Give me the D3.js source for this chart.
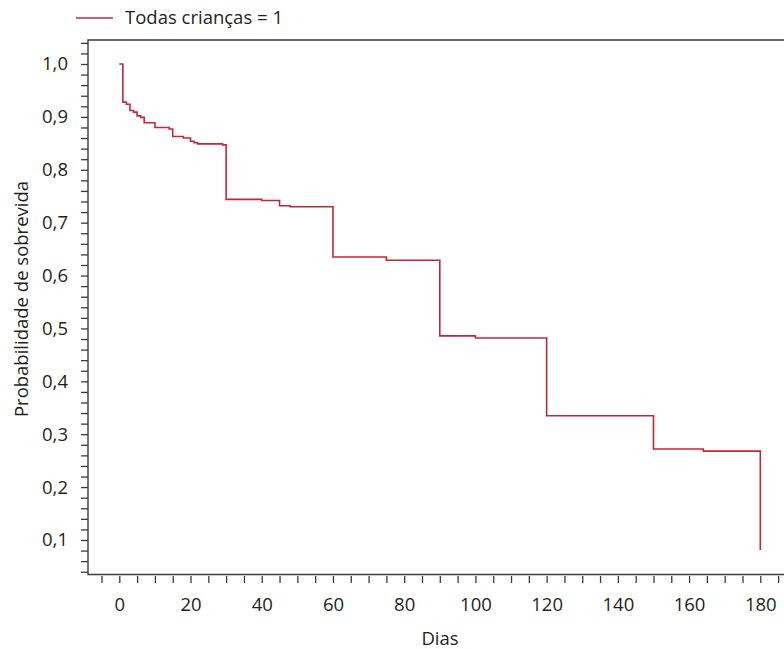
<!DOCTYPE html>
<html>
<head>
<meta charset="utf-8">
<script src="https://cdn.jsdelivr.net/npm/d3@7"></script>
<style>
  body { margin: 0; background: #fff; }
  text { font-family: "Open Sans", sans-serif; fill: #231f20; }
</style>
</head>
<body>
<div id="chart"></div>
<script>
/* Curva de sobrevida (Kaplan-Meier), todas as crianças */

// dias em que a curva muda de nível
const dias = [0, 1, 2, 3, 4, 5, 6, 7, 10, 14, 15, 18, 20, 21, 22, 29, 30,
              40, 45, 48, 60, 75, 90, 100, 120, 150, 164, 180];
// probabilidade de sobrevida a partir de cada dia
const sobrevida = [1.0, 0.928, 0.924, 0.912, 0.909, 0.902, 0.899, 0.889, 0.880,
                   0.877, 0.863, 0.860, 0.854, 0.851, 0.849, 0.847, 0.744,
                   0.742, 0.732, 0.730, 0.635, 0.629, 0.486, 0.482, 0.335,
                   0.272, 0.268, 0.081];
const xTicks = [0, 20, 40, 60, 80, 100, 120, 140, 160, 180];
const yTicks = [0.1, 0.2, 0.3, 0.4, 0.5, 0.6, 0.7, 0.8, 0.9, 1.0];
const legenda = "Todas crianças = 1";

const width = 784,
      height = 649,
      fontSize = "18.5px",
      frame = ({ top: 40, left: 88, bottom: 574.5, right: 784 });

const data = dias.map((d, i) => ({ t: d, s: sobrevida[i] }));

let svg = d3.select("#chart")
    .append("svg")
    .attr("width", width)
    .attr("height", height);

let x = d3.scaleLinear()
    .domain([0, 180])
    .range([119.3, 760.3]);

let y = d3.scaleLinear()
    .domain([0.1, 1.0])
    .range([540, 64]);

const fmt = d3.formatLocale({ decimal: ",", thousands: ".", grouping: [3], currency: ["", ""] }).format(".1f");

// moldura: topo e eixo esquerdo / inferior
svg.append("path")
    .attr("d", `M${frame.right},${frame.top}H${frame.left}V${frame.bottom}H${frame.right}`)
    .attr("fill", "none")
    .attr("stroke", "#3a3a3a")
    .attr("stroke-width", 1.4);

// eixo x: traços a cada 5 dias, rótulos a cada 20
let xAxis = svg.append("g")
    .attr("transform", `translate(0,${frame.bottom + 1.5})`)
    .call(d3.axisBottom(x)
        .tickValues(d3.range(-5, 186, 5))
        .tickSize(7)
        .tickPadding(15)
        .tickFormat(d => xTicks.includes(d) ? d : ""));
xAxis.select(".domain").remove();

// eixo y: traços a cada 0,02, rótulos a cada 0,1
let yAxis = svg.append("g")
    .attr("transform", `translate(${frame.left},0)`)
    .call(d3.axisLeft(y)
        .tickValues(d3.range(2, 53).map(k => k / 50).filter(v => y(v) > frame.top && y(v) < frame.bottom))
        .tickSize(7)
        .tickPadding(13)
        .tickFormat(d => yTicks.some(v => Math.abs(v - d) < 1e-6) ? fmt(d) : ""));
yAxis.select(".domain").remove();

svg.selectAll(".tick line")
    .attr("stroke", "#3a3a3a")
    .attr("stroke-width", 1.3);

svg.selectAll(".tick text")
    .style("font-size", fontSize)
    .style("font-family", "'Open Sans', sans-serif")
    .attr("fill", "#231f20");

// curva em degraus
let line = d3.line()
    .x(d => x(d.t))
    .y(d => y(d.s))
    .curve(d3.curveStepAfter);

svg.append("path")
    .datum(data)
    .attr("d", line)
    .attr("fill", "none")
    .attr("stroke", "#c0283a")
    .attr("stroke-width", 1.6);

// títulos dos eixos
svg.append("text")
    .attr("x", 440)
    .attr("y", 645)
    .attr("text-anchor", "middle")
    .style("font-size", fontSize)
    .text("Dias");

svg.append("text")
    .attr("transform", "translate(28,299) rotate(-90)")
    .attr("text-anchor", "middle")
    .style("font-size", fontSize)
    .text("Probabilidade de sobrevida");

// legenda
svg.append("line")
    .attr("x1", 76).attr("x2", 113)
    .attr("y1", 18).attr("y2", 18)
    .attr("stroke", "#c0283a")
    .attr("stroke-width", 1.6);

svg.append("text")
    .attr("x", 125)
    .attr("y", 24)
    .style("font-size", fontSize)
    .text(legenda);
</script>
</body>
</html>
